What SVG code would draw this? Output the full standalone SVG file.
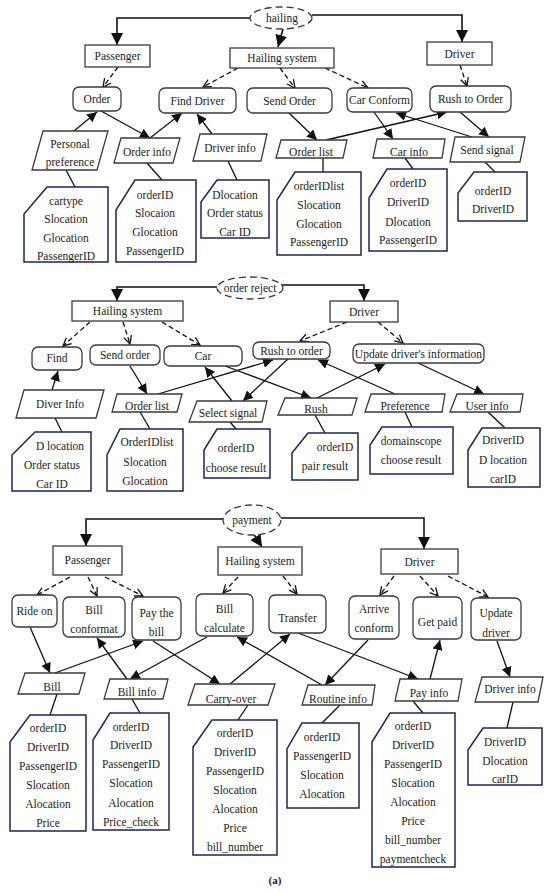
<svg xmlns="http://www.w3.org/2000/svg" width="550" height="891" viewBox="0 0 550 891">
<style>
.n{fill:#fff;stroke:#3a3a3a;stroke-width:1.3}
.e{fill:#fff;stroke:#3a3a3a;stroke-width:1.3;stroke-dasharray:7 4}
.d{fill:#fff;stroke:#1c2557;stroke-width:1.5}
.c{stroke:#111;stroke-width:1.3;fill:none}
.ca{stroke:#111;stroke-width:1.3;fill:none;marker-end:url(#a)}
.cb{stroke:#111;stroke-width:1.6;fill:none;marker-end:url(#b)}
.cd{stroke:#111;stroke-width:1.3;fill:none;stroke-dasharray:5 3;marker-end:url(#o)}
text{font-family:"Liberation Serif","Times New Roman",serif;font-size:11.5px;fill:#222;text-anchor:middle}
</style>
<defs>
<marker id="a" markerUnits="userSpaceOnUse" markerWidth="10" markerHeight="10" viewBox="0 0 10 10" refX="10" refY="5" orient="auto"><path d="M0,0 L10,5 L0,10 z" fill="#111"/></marker>
<marker id="b" markerUnits="userSpaceOnUse" markerWidth="12" markerHeight="12" viewBox="0 0 10 10" refX="10" refY="5" orient="auto"><path d="M0,0 L10,5 L0,10 z" fill="#111"/></marker>
<marker id="o" markerUnits="userSpaceOnUse" markerWidth="10" markerHeight="10" viewBox="0 0 10 10" refX="9" refY="5" orient="auto"><path d="M1,1 L9,5 L1,9" fill="none" stroke="#111" stroke-width="1.3"/></marker>
</defs>

<g id="connectors">
<!-- top -->
<path class="cb" d="M250,18 H117 V45"/>
<path class="cb" d="M312,15 H462 V42"/>
<line class="cb" x1="283" y1="29" x2="278" y2="47"/>
<line class="cd" x1="118" y1="67" x2="103" y2="87"/>
<line class="cd" x1="238" y1="68" x2="203" y2="87"/>
<line class="cd" x1="280" y1="68" x2="295" y2="88"/>
<line class="cd" x1="325" y1="68" x2="368" y2="88"/>
<line class="cd" x1="460" y1="65" x2="467" y2="86"/>
<line class="ca" x1="74" y1="131" x2="97" y2="112"/>
<line class="ca" x1="101" y1="111" x2="150" y2="138"/>
<line class="ca" x1="150" y1="138" x2="182" y2="113"/>
<line class="ca" x1="212" y1="134" x2="197" y2="114"/>
<line class="ca" x1="289" y1="113" x2="317" y2="140"/>
<line class="ca" x1="326" y1="140" x2="447" y2="112"/>
<line class="ca" x1="374" y1="112" x2="393" y2="139"/>
<line class="ca" x1="472" y1="137" x2="396" y2="113"/>
<line class="ca" x1="460" y1="112" x2="489" y2="137"/>
<line class="c" x1="66" y1="170" x2="75" y2="187"/>
<line class="c" x1="147" y1="163" x2="162" y2="180"/>
<line class="c" x1="228" y1="161" x2="237" y2="180"/>
<line class="c" x1="323" y1="158" x2="323" y2="172"/>
<line class="c" x1="405" y1="158" x2="413" y2="169"/>
<line class="c" x1="485" y1="162" x2="495" y2="172"/>
<!-- middle -->
<path class="cb" d="M217,287 H117 V301"/>
<path class="cb" d="M281,285 H364 V301"/>
<line class="cd" x1="90" y1="322" x2="63" y2="346"/>
<line class="cd" x1="123" y1="322" x2="130" y2="344"/>
<line class="cd" x1="162" y1="322" x2="200" y2="345"/>
<line class="cd" x1="347" y1="322" x2="300" y2="341"/>
<line class="cd" x1="378" y1="322" x2="403" y2="343"/>
<line class="ca" x1="52" y1="390" x2="58" y2="371"/>
<line class="ca" x1="130" y1="366" x2="147" y2="394"/>
<line class="ca" x1="158" y1="394" x2="273" y2="360"/>
<line class="ca" x1="232" y1="401" x2="205" y2="367"/>
<line class="ca" x1="288" y1="359" x2="243" y2="401"/>
<line class="ca" x1="225" y1="366" x2="311" y2="398"/>
<line class="ca" x1="317" y1="398" x2="385" y2="364"/>
<line class="ca" x1="395" y1="394" x2="318" y2="360"/>
<line class="ca" x1="418" y1="363" x2="484" y2="394"/>
<line class="c" x1="55" y1="418" x2="62" y2="432"/>
<line class="c" x1="140" y1="412" x2="150" y2="429"/>
<line class="c" x1="230" y1="422" x2="236" y2="429"/>
<line class="c" x1="315" y1="415" x2="325" y2="433"/>
<line class="c" x1="405" y1="412" x2="412" y2="427"/>
<line class="c" x1="488" y1="412" x2="505" y2="428"/>
<!-- bottom -->
<path class="cb" d="M223,519 H86 V546"/>
<path class="cb" d="M281,518 H424 V549"/>
<line class="cb" x1="253" y1="533" x2="262" y2="547"/>
<line class="cd" x1="70" y1="577" x2="37" y2="595"/>
<line class="cd" x1="88" y1="577" x2="97" y2="596"/>
<line class="cd" x1="105" y1="577" x2="143" y2="596"/>
<line class="cd" x1="238" y1="577" x2="223" y2="593"/>
<line class="cd" x1="283" y1="576" x2="297" y2="594"/>
<line class="cd" x1="394" y1="576" x2="380" y2="595"/>
<line class="cd" x1="420" y1="576" x2="438" y2="596"/>
<line class="cd" x1="448" y1="576" x2="488" y2="597"/>
<line class="ca" x1="30" y1="627" x2="50" y2="673"/>
<line class="ca" x1="55" y1="673" x2="143" y2="641"/>
<line class="ca" x1="127" y1="679" x2="97" y2="638"/>
<line class="ca" x1="207" y1="637" x2="130" y2="679"/>
<line class="ca" x1="153" y1="641" x2="220" y2="684"/>
<line class="ca" x1="230" y1="684" x2="290" y2="634"/>
<line class="ca" x1="322" y1="685" x2="237" y2="637"/>
<line class="ca" x1="298" y1="633" x2="418" y2="679"/>
<line class="ca" x1="368" y1="640" x2="325" y2="685"/>
<line class="ca" x1="430" y1="679" x2="440" y2="640"/>
<line class="ca" x1="497" y1="641" x2="510" y2="677"/>
<line class="c" x1="57" y1="694" x2="50" y2="715"/>
<line class="c" x1="132" y1="699" x2="140" y2="713"/>
<line class="c" x1="248" y1="705" x2="238" y2="720"/>
<line class="c" x1="340" y1="705" x2="322" y2="723"/>
<line class="c" x1="413" y1="701" x2="423" y2="713"/>
<line class="c" x1="513" y1="702" x2="507" y2="728"/>
</g>

<!-- TOP SECTION -->
<g id="hailing"><ellipse class="e" cx="281" cy="18" rx="31" ry="11"/><text x="282" y="22">hailing</text></g>
<g id="t-passenger"><rect class="n" x="85" y="45" width="65" height="22"/><text x="117.5" y="60">Passenger</text></g>
<g id="t-hailing-system"><rect class="n" x="230" y="48" width="104" height="20"/><text x="282" y="62">Hailing system</text></g>
<g id="t-driver"><rect class="n" x="427" y="42" width="65" height="23"/><text x="459.5" y="57.5">Driver</text></g>
<g id="t-order"><rect class="n" x="73" y="87" width="48" height="24" rx="6"/><text x="97" y="103">Order</text></g>
<g id="t-find-driver"><rect class="n" x="159" y="88" width="77" height="25" rx="6"/><text x="197.5" y="104.5">Find Driver</text></g>
<g id="t-send-order"><rect class="n" x="247" y="88" width="85" height="25" rx="6"/><text x="289.5" y="104.5">Send Order</text></g>
<g id="t-car-conform"><rect class="n" x="347" y="88" width="65" height="24" rx="6"/><text x="379.5" y="104">Car Conform</text></g>
<g id="t-rush-to-order"><rect class="n" x="430" y="86" width="81" height="26" rx="6"/><text x="470.5" y="103">Rush to Order</text></g>
<g id="t-personal-preference"><polygon class="n" points="43,131 108,131 97,170 32,170"/><text x="70" y="148">Personal</text><text x="70" y="166">preference</text></g>
<g id="t-order-info"><polygon class="n" points="121,138 180,138 173,163 114,163"/><text x="147" y="156">Order info</text></g>
<g id="t-driver-info"><polygon class="n" points="200,134 267,134 261,161 193,161"/><text x="230" y="152">Driver info</text></g>
<g id="t-order-list"><polygon class="n" points="281,140 347,140 343,158 276,158"/><text x="311" y="156">Order list</text></g>
<g id="t-car-info"><polygon class="n" points="377,139 445,139 442,158 373,158"/><text x="409" y="156">Car info</text></g>
<g id="t-send-signal"><polygon class="n" points="455,137 525,137 520,162 450,162"/><text x="487" y="154">Send signal</text></g>
<g id="t-data1"><path class="d" d="M47,187 H108 V262 H24 V214 Z"/><text x="66" y="205">cartype</text><text x="66" y="223">Slocation</text><text x="66" y="242">Glocation</text><text x="66" y="260">PassengerID</text></g>
<g id="t-data2"><path class="d" d="M135,180 H196 V262 H116 V210 Z"/><text x="155" y="199">orderID</text><text x="155" y="217">Slocaion</text><text x="155" y="236">Glocation</text><text x="155" y="255">PassengerID</text></g>
<g id="t-data3"><path class="d" d="M217,180 H269 V238 H201 V202 Z"/><text x="235" y="199">Dlocation</text><text x="235" y="217">Order status</text><text x="235" y="236">Car ID</text></g>
<g id="t-data4"><path class="d" d="M295,172 H361 V255 H277 V200 Z"/><text x="319" y="190">orderIDlist</text><text x="319" y="209">Slocation</text><text x="319" y="228">Glocation</text><text x="319" y="246">PassengerID</text></g>
<g id="t-data5"><path class="d" d="M387,169 H447 V251 H369 V198 Z"/><text x="408" y="187">orderID</text><text x="408" y="206">DriverID</text><text x="408" y="226">Dlocation</text><text x="408" y="244">PassengerID</text></g>
<g id="t-data6"><path class="d" d="M474,172 H527 V221 H458 V193 Z"/><text x="493" y="195">orderID</text><text x="493" y="213">DriverID</text></g>

<!-- MIDDLE SECTION -->
<g id="order-reject"><ellipse class="e" cx="250" cy="288" rx="33" ry="11"/><text x="250" y="292">order reject</text></g>
<g id="m-hailing-system"><rect class="n" x="72" y="301" width="111" height="20"/><text x="127.5" y="315">Hailing system</text></g>
<g id="m-driver"><rect class="n" x="330" y="301" width="68" height="21"/><text x="364" y="316">Driver</text></g>
<g id="m-find"><rect class="n" x="32" y="347" width="50" height="23" rx="6"/><text x="57" y="362">Find</text></g>
<g id="m-send-order"><rect class="n" x="90" y="345" width="70" height="20" rx="6"/><text x="125" y="359">Send order</text></g>
<g id="m-car"><rect class="n" x="164" y="346" width="78" height="20" rx="6"/><text x="203" y="360">Car</text></g>
<g id="m-rush-to-order"><rect class="n" x="253" y="342" width="77" height="17" rx="6"/><text x="291.5" y="355">Rush to order</text></g>
<g id="m-update"><rect class="n" x="353" y="344" width="131" height="19" rx="6"/><text x="418.5" y="357.5">Update driver's information</text></g>
<g id="m-diver-info"><polygon class="n" points="24,390 104,390 96,418 16,418"/><text x="60" y="408">Diver Info</text></g>
<g id="m-order-list"><polygon class="n" points="117,394 182,394 177,412 112,412"/><text x="147" y="410">Order list</text></g>
<g id="m-select-signal"><polygon class="n" points="197,401 267,401 262,422 189,422"/><text x="228" y="417">Select signal</text></g>
<g id="m-rush"><polygon class="n" points="285,398 357,398 352,415 278,415"/><text x="316" y="413">Rush</text></g>
<g id="m-preference"><polygon class="n" points="371,394 445,394 442,412 365,412"/><text x="405" y="410">Preference</text></g>
<g id="m-user-info"><polygon class="n" points="457,394 523,394 520,412 450,412"/><text x="487" y="410">User info</text></g>
<g id="m-data1"><path class="d" d="M35,432 H91 V491 H12 V455 Z"/><text x="60" y="450">D location</text><text x="52" y="469">Order status</text><text x="52" y="488">Car ID</text></g>
<g id="m-data2"><path class="d" d="M120,429 H183 V491 H107 V455 Z"/><text x="147" y="446">OrderIDlist</text><text x="145" y="466">Slocation</text><text x="145" y="485">Glocation</text></g>
<g id="m-data3"><path class="d" d="M217,429 H270 V478 H204 V450 Z"/><text x="236" y="452">orderID</text><text x="236" y="472">choose result</text></g>
<g id="m-data4"><path class="d" d="M308,433 H358 V480 H292 V453 Z"/><text x="335" y="451">orderID</text><text x="325" y="470">pair result</text></g>
<g id="m-data5"><path class="d" d="M382,427 H453 V474 H370 V445 Z"/><text x="411" y="445">domainscope</text><text x="411" y="464">choose result</text></g>
<g id="m-data6"><path class="d" d="M482,428 H540 V487 H468 V450 Z"/><text x="503" y="444">DriverID</text><text x="503" y="464">D location</text><text x="503" y="483">carID</text></g>

<!-- BOTTOM SECTION -->
<g id="payment"><ellipse class="e" cx="252" cy="520" rx="29" ry="15"/><text x="252" y="524">payment</text></g>
<g id="b-passenger"><rect class="n" x="53" y="546" width="69" height="29"/><text x="87.5" y="564">Passenger</text></g>
<g id="b-hailing-system"><rect class="n" x="218" y="547" width="84" height="28"/><text x="260" y="565">Hailing system</text></g>
<g id="b-driver"><rect class="n" x="381" y="549" width="77" height="25"/><text x="419.5" y="565.5">Driver</text></g>
<g id="b-ride-on"><rect class="n" x="12" y="595" width="45" height="32" rx="6"/><text x="34.5" y="615">Ride on</text></g>
<g id="b-bill-conformat"><rect class="n" x="63" y="597" width="62" height="40" rx="6"/><text x="94" y="614">Bill</text><text x="94" y="633">conformat</text></g>
<g id="b-pay-the-bill"><rect class="n" x="132" y="597" width="49" height="43" rx="6"/><text x="156.5" y="617">Pay the</text><text x="156.5" y="636">bill</text></g>
<g id="b-bill-calculate"><rect class="n" x="196" y="594" width="57" height="42" rx="6"/><text x="224.5" y="613">Bill</text><text x="224.5" y="632">calculate</text></g>
<g id="b-transfer"><rect class="n" x="269" y="595" width="57" height="38" rx="6"/><text x="297.5" y="622">Transfer</text></g>
<g id="b-arrive-conform"><rect class="n" x="349" y="596" width="50" height="43" rx="6"/><text x="374" y="613">Arrive</text><text x="374" y="632">conform</text></g>
<g id="b-get-paid"><rect class="n" x="413" y="597" width="49" height="42" rx="6"/><text x="437.5" y="626">Get paid</text></g>
<g id="b-update-driver"><rect class="n" x="471" y="598" width="50" height="42" rx="6"/><text x="496" y="617">Update</text><text x="496" y="637">driver</text></g>
<g id="b-bill"><polygon class="n" points="25,673 85,673 79,694 18,694"/><text x="52" y="691">Bill</text></g>
<g id="b-bill-info"><polygon class="n" points="110,679 168,679 163,699 104,699"/><text x="137" y="696">Bill info</text></g>
<g id="b-carry-over"><polygon class="n" points="195,684 275,684 268,705 188,705"/><text x="231" y="703">Carry-over</text></g>
<g id="b-routine-info"><polygon class="n" points="308,685 375,685 372,705 302,705"/><text x="338" y="703">Routine info</text></g>
<g id="b-pay-info"><polygon class="n" points="400,679 462,679 458,701 395,701"/><text x="429" y="697">Pay info</text></g>
<g id="b-driver-info"><polygon class="n" points="482,677 543,677 538,702 475,702"/><text x="510" y="693">Driver info</text></g>
<g id="b-data1"><path class="d" d="M30,715 H86 V831 H10 V742 Z"/><text x="48" y="732">orderID</text><text x="48" y="751">DriverID</text><text x="48" y="770">PassengerID</text><text x="48" y="789">Slocation</text><text x="48" y="808">Alocation</text><text x="48" y="827">Price</text></g>
<g id="b-data2"><path class="d" d="M110,713 H169 V830 H93 V740 Z"/><text x="131" y="731">orderID</text><text x="131" y="749">DriverID</text><text x="131" y="768">PassengerID</text><text x="131" y="787">Slocation</text><text x="131" y="807">Alocation</text><text x="131" y="826">Price_check</text></g>
<g id="b-data3"><path class="d" d="M212,720 H277 V855 H193 V747 Z"/><text x="235" y="737">orderID</text><text x="235" y="756">DriverID</text><text x="235" y="775">PassengerID</text><text x="235" y="794">Slocation</text><text x="235" y="813">Alocation</text><text x="235" y="832">Price</text><text x="235" y="851">bill_number</text></g>
<g id="b-data4"><path class="d" d="M302,723 H359 V808 H287 V749 Z"/><text x="322" y="741">orderID</text><text x="322" y="760">PassengerID</text><text x="322" y="779">Slocation</text><text x="322" y="798">Alocation</text></g>
<g id="b-data5"><path class="d" d="M390,713 H455 V867 H372 V742 Z"/><text x="413" y="730">orderID</text><text x="413" y="749">DriverID</text><text x="413" y="768">PassengerID</text><text x="413" y="787">Slocation</text><text x="413" y="806">Alocation</text><text x="413" y="825">Price</text><text x="413" y="844">bill_number</text><text x="413" y="863">paymentcheck</text></g>
<g id="b-data6"><path class="d" d="M483,728 H542 V785 H468 V750 Z"/><text x="505" y="746">DriverID</text><text x="505" y="765">Dlocation</text><text x="505" y="783">carID</text></g>

<text x="275" y="884" style="font-weight:bold;font-size:11px">(a)</text>
</svg>
